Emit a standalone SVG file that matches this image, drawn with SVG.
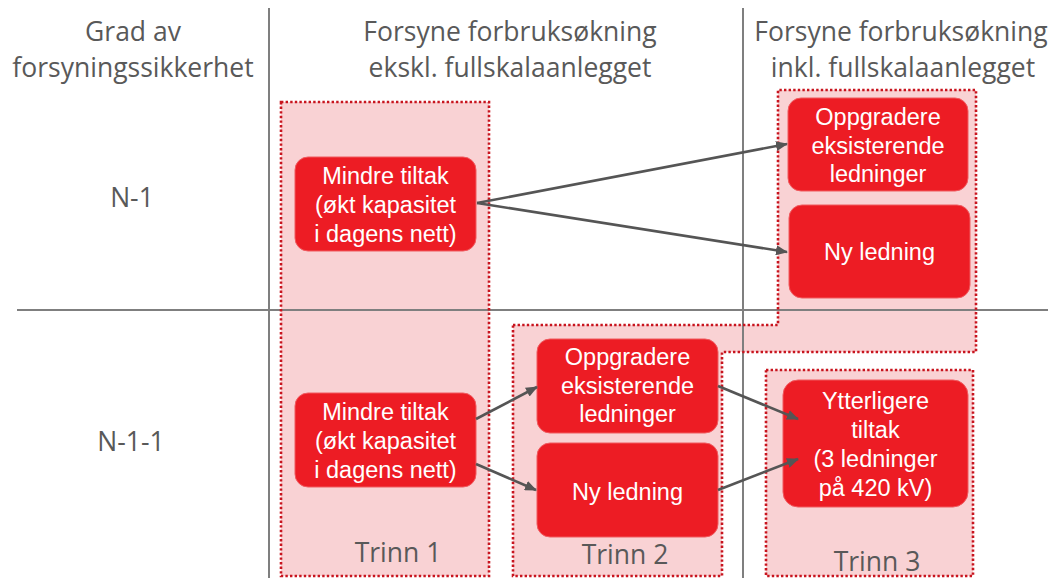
<svg xmlns="http://www.w3.org/2000/svg" width="1048" height="578" viewBox="0 0 1048 578">
  <defs>
    <style>
      .zone { fill: #f9d2d4; }
      .zone-edge { fill: none; stroke: #c8141e; stroke-width: 2.6; stroke-dasharray: 2.4 2.2; }
      .grid { stroke: #7f7f7f; stroke-width: 2; fill: none; }
      .node { fill: #ed1c24; stroke: #f05a5f; stroke-width: 1; }
      .ntext { font-family: "Liberation Sans", Arial, sans-serif; font-size: 23.5px; fill: #ffffff; text-anchor: middle; }
      .head { font-family: "Open Sans", "Liberation Sans", sans-serif; font-size: 26.5px; fill: #595959; text-anchor: middle; }
      .conn { stroke: #555555; stroke-width: 2.6; fill: none; marker-end: url(#arrow); }
    </style>
    <marker id="arrow" markerWidth="12" markerHeight="10" refX="11" refY="5" orient="auto" markerUnits="userSpaceOnUse">
      <path d="M0,0 L12,5 L0,10 Z" fill="#555555"/>
    </marker>
  </defs>

  <rect width="1048" height="578" fill="#ffffff"/>

  <!-- stage areas: fills -->
  <g id="zones">
    <rect id="zone-trinn1" class="zone" x="281" y="102" width="208" height="474"/>
    <path id="zone-trinn2" class="zone" d="M513,325 L778,325 L778,90 L976,90 L976,352 L722,352 L722,576 L513,576 Z"/>
    <rect id="zone-trinn3" class="zone" x="766" y="370" width="207" height="206"/>
  </g>

  <!-- table grid -->
  <g id="grid">
    <line class="grid" x1="269" y1="8" x2="269" y2="578"/>
    <line class="grid" x1="743" y1="8" x2="743" y2="578"/>
    <line class="grid" x1="17" y1="310" x2="1048" y2="310"/>
  </g>

  <!-- stage areas: dotted outlines -->
  <g id="zone-edges">
    <rect class="zone-edge" x="281" y="102" width="208" height="474"/>
    <path class="zone-edge" d="M513,325 L778,325 L778,90 L976,90 L976,352 L722,352 L722,576 L513,576 Z"/>
    <rect class="zone-edge" x="766" y="370" width="207" height="206"/>
  </g>

  <!-- column and row headings -->
  <g id="headings">
    <text class="head" x="133" y="41">Grad av</text>
    <text class="head" x="133" y="77">forsyningssikkerhet</text>
    <text class="head" x="510" y="41">Forsyne forbruksøkning</text>
    <text class="head" x="510" y="77">ekskl. fullskalaanlegget</text>
    <text class="head" x="901" y="41">Forsyne forbruksøkning</text>
    <text class="head" x="903" y="77">inkl. fullskalaanlegget</text>
    <text class="head" x="132" y="207">N-1</text>
    <text class="head" x="131" y="451">N-1-1</text>
    <text class="head" x="398" y="562">Trinn 1</text>
    <text class="head" x="625" y="564">Trinn 2</text>
    <text class="head" x="877" y="571">Trinn 3</text>
  </g>

  <!-- N-1, trinn 1 -->
  <g id="n1-mindre-tiltak">
    <rect class="node" x="295" y="157" width="181" height="94" rx="13"/>
    <text class="ntext" x="385.5" y="184">Mindre tiltak</text>
    <text class="ntext" x="385.5" y="213">(økt kapasitet</text>
    <text class="ntext" x="385.5" y="242">i dagens nett)</text>
  </g>

  <!-- N-1, trinn 3 -->
  <g id="n1-oppgradere">
    <rect class="node" x="788" y="98" width="180" height="93" rx="13"/>
    <text class="ntext" x="878" y="125">Oppgradere</text>
    <text class="ntext" x="878" y="154">eksisterende</text>
    <text class="ntext" x="878" y="182">ledninger</text>
  </g>
  <g id="n1-ny-ledning">
    <rect class="node" x="789" y="205" width="181" height="93" rx="13"/>
    <text class="ntext" x="879.5" y="260">Ny ledning</text>
  </g>

  <!-- N-1-1, trinn 1 -->
  <g id="n11-mindre-tiltak">
    <rect class="node" x="295" y="393" width="181" height="94" rx="13"/>
    <text class="ntext" x="385.5" y="420">Mindre tiltak</text>
    <text class="ntext" x="385.5" y="449">(økt kapasitet</text>
    <text class="ntext" x="385.5" y="478">i dagens nett)</text>
  </g>

  <!-- N-1-1, trinn 2 -->
  <g id="n11-oppgradere">
    <rect class="node" x="537" y="339" width="181" height="94" rx="13"/>
    <text class="ntext" x="627.5" y="365">Oppgradere</text>
    <text class="ntext" x="627.5" y="394">eksisterende</text>
    <text class="ntext" x="627.5" y="422">ledninger</text>
  </g>
  <g id="n11-ny-ledning">
    <rect class="node" x="537" y="443" width="181" height="94" rx="13"/>
    <text class="ntext" x="627.5" y="500">Ny ledning</text>
  </g>

  <!-- N-1-1, trinn 3 -->
  <g id="n11-ytterligere">
    <rect class="node" x="783" y="380" width="185" height="127" rx="15"/>
    <text class="ntext" x="875.5" y="409">Ytterligere</text>
    <text class="ntext" x="875.5" y="438">tiltak</text>
    <text class="ntext" x="875.5" y="467">(3 ledninger</text>
    <text class="ntext" x="875.5" y="496">på 420 kV)</text>
  </g>

  <!-- connectors, drawn on top so the heads stay visible -->
  <g id="connectors">
    <line class="conn" x1="477" y1="203" x2="787" y2="144"/>
    <line class="conn" x1="477" y1="203" x2="787" y2="252"/>
    <line class="conn" x1="476" y1="419" x2="537" y2="387"/>
    <line class="conn" x1="476" y1="464" x2="536" y2="490"/>
    <line class="conn" x1="718" y1="386" x2="798" y2="419"/>
    <line class="conn" x1="718" y1="490" x2="798" y2="459"/>
  </g>
</svg>
